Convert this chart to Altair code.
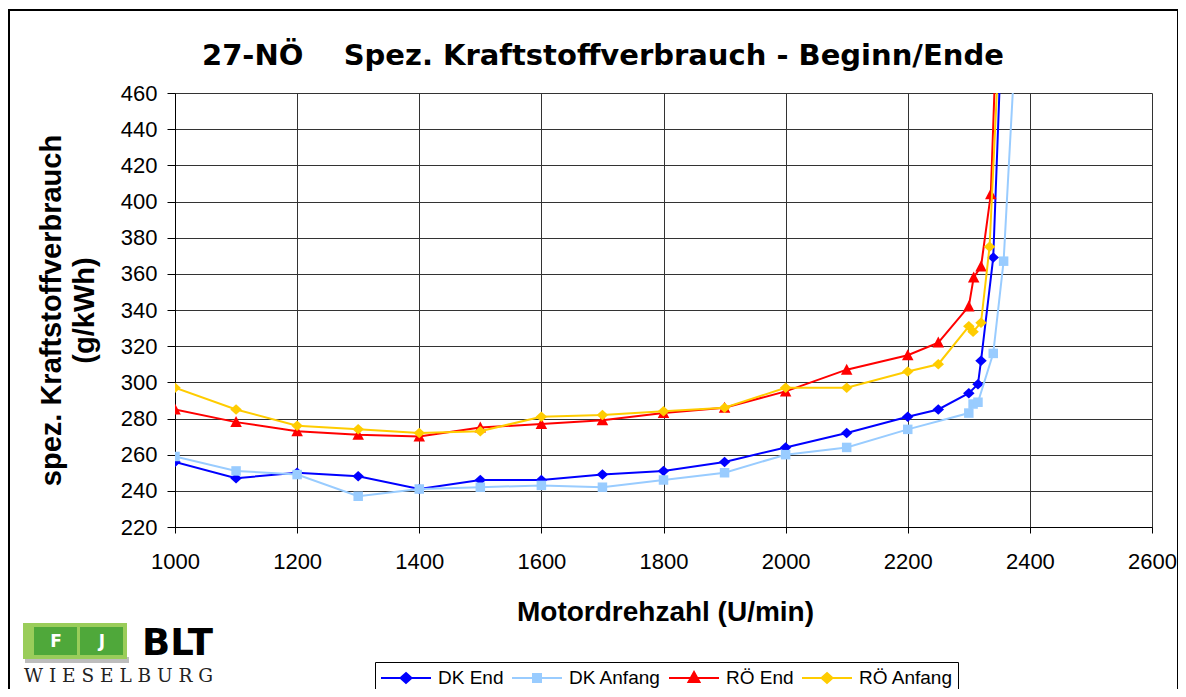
import altair as alt
import pandas as pd

SERIES = ["DK End", "DK Anfang", "RÖ End", "RÖ Anfang"]
COLORS = ["#0000FF", "#99CCFF", "#FF0000", "#FFCC00"]

DK_END_X = [1000, 1100, 1200, 1300, 1400, 1500, 1600, 1700, 1800, 1900, 2000, 2100, 2200, 2250, 2300, 2315, 2320, 2340, 2355]
DK_END_Y = [256, 247, 250, 248, 241, 246, 246, 249, 251, 256, 264, 272, 281, 285, 294, 299, 312, 369, 505]

DK_ANF_X = [1000, 1100, 1200, 1300, 1400, 1500, 1600, 1700, 1800, 1900, 2000, 2100, 2200, 2300, 2307, 2315, 2340, 2357, 2380]
DK_ANF_Y = [259, 251, 249, 237, 241, 242, 243, 242, 246, 250, 260, 264, 274, 283, 288, 289, 316, 367, 510]

RO_END_X = [1000, 1100, 1200, 1300, 1400, 1500, 1600, 1700, 1800, 1900, 2000, 2100, 2200, 2250, 2300, 2308, 2320, 2336, 2345]
RO_END_Y = [285, 278, 273, 271, 270, 275, 277, 279, 283, 286, 295, 307, 315, 322, 342, 358, 364, 404, 490]

RO_ANF_X = [1000, 1100, 1200, 1300, 1400, 1500, 1600, 1700, 1800, 1900, 2000, 2100, 2200, 2250, 2300, 2307, 2320, 2334, 2350]
RO_ANF_Y = [297, 285, 276, 274, 272, 273, 281, 282, 284, 286, 297, 297, 306, 310, 331, 328, 333, 375, 490]

X_TICKS = [1000, 1200, 1400, 1600, 1800, 2000, 2200, 2400, 2600]
Y_TICKS = [220, 240, 260, 280, 300, 320, 340, 360, 380, 400, 420, 440, 460]

TITLE = "27-NÖ\u00a0\u00a0\u00a0\u00a0Spez. Kraftstoffverbrauch - Beginn/Ende"
X_TITLE = "Motordrehzahl (U/min)"
Y_TITLE = ["spez. Kraftstoffverbrauch", "(g/kWh)"]

rows = []
for name, xs, ys in [
    (SERIES[0], DK_END_X, DK_END_Y),
    (SERIES[1], DK_ANF_X, DK_ANF_Y),
    (SERIES[2], RO_END_X, RO_END_Y),
    (SERIES[3], RO_ANF_X, RO_ANF_Y),
]:
    for xv, yv in zip(xs, ys):
        rows.append({"series": name, "rpm": xv, "bsfc": yv})
df = pd.DataFrame(rows)

# marker shapes (unit = 5px at size 100)
DIAMOND = "M0,-1.05L1.15,0L0,1.05L-1.15,0Z"
SQUARE = "M-0.95,-0.95L0.95,-0.95L0.95,0.95L-0.95,0.95Z"
TRIANGLE = "M0,-1.2L1.15,1L-1.15,1Z"
MARKERS = [DIAMOND, SQUARE, TRIANGLE, DIAMOND]

# legend symbols: line + marker (unit = 10px at size 400)
LEG_DIAMOND = "M-1,0L4,0M1.5,-0.5L2.05,0L1.5,0.5L0.95,0Z"
LEG_SQUARE = "M-1,0L4,0M1.1,-0.4L1.9,-0.4L1.9,0.4L1.1,0.4Z"
LEG_TRIANGLE = "M-1,0L4,0M1.5,-0.6L2.05,0.4L0.95,0.4Z"
LEG_PATHS = [LEG_DIAMOND, LEG_SQUARE, LEG_TRIANGLE, LEG_DIAMOND]

FONT = "Liberation Sans"

xs = alt.Scale(domain=[1000, 2600], nice=False, zero=False)
ys = alt.Scale(domain=[220, 460], nice=False, zero=False)

x_enc = alt.X(
    "rpm:Q", scale=xs,
    axis=alt.Axis(
        values=X_TICKS, format="d", title=X_TITLE, grid=True, labelFlush=False,
        tickSize=6, labelPadding=18, labelFontSize=22,
        titleFont=FONT, titleFontSize=28, titleFontWeight="bold",
        titleX=490, titleY=93, titleBaseline="alphabetic", titleAlign="center",
    ),
)
y_enc = alt.Y(
    "bsfc:Q", scale=ys,
    axis=alt.Axis(
        values=Y_TICKS, format="d", title=Y_TITLE, grid=True, labelFlush=False,
        tickSize=8, labelPadding=10, labelFontSize=22,
        titleFont=FONT, titleFontSize=29, titleFontWeight="bold",
        titleLineHeight=33, titleX=-115, titleY=217, titleAngle=270,
        titleBaseline="alphabetic", titleAlign="center",
    ),
)

base = alt.Chart(df)
layers = []
for s, c, m in zip(SERIES, COLORS, MARKERS):
    sub = base.transform_filter(alt.datum.series == s)
    layers.append(
        sub.mark_line(color=c, strokeWidth=2, clip=True).encode(
            x=x_enc, y=y_enc, order=alt.Order("rpm:Q")
        )
    )
    layers.append(
        sub.mark_point(shape=m, size=100, filled=True, color=c, opacity=1, clip=True).encode(
            x=x_enc, y=y_enc
        )
    )

leg = alt.Legend(
    orient="none", legendX=200, legendY=569, direction="horizontal", columns=4,
    gridAlign="none",
    strokeColor="black", fillColor="white", padding=5,
    labelFont=FONT, labelFontSize=19, labelColor="black", labelOffset=36,
    symbolSize=400, symbolStrokeWidth=2, symbolOpacity=1, columnPadding=4,
)
legend_layer = base.transform_filter("false").mark_point(filled=True, strokeWidth=2).encode(
    x=x_enc, y=y_enc,
    fill=alt.Fill("series:N", scale=alt.Scale(domain=SERIES, range=COLORS), legend=leg, title=None),
    stroke=alt.Stroke("series:N", scale=alt.Scale(domain=SERIES, range=COLORS), legend=leg, title=None),
    shape=alt.Shape("series:N", scale=alt.Scale(domain=SERIES, range=LEG_PATHS), legend=leg, title=None),
)
layers.append(legend_layer)

one = pd.DataFrame({"t": [""]})

title_mark = alt.Chart(pd.DataFrame({"t": [TITLE]})).mark_text(
    font="DejaVu Sans", fontSize=29, fontWeight="bold", align="left", baseline="alphabetic", color="black"
).encode(text="t:N", x=alt.value(27), y=alt.value(-28))

frame = alt.Chart(one).mark_rect(fillOpacity=0, stroke="black", strokeWidth=2).encode(
    x=alt.value(-166), x2=alt.value(1003), y=alt.value(-83), y2=alt.value(620)
)

# logo (decoration)
logo_shadow = alt.Chart(one).mark_rect(fill="#BDBDBD").encode(
    x=alt.value(-150), x2=alt.value(-46), y=alt.value(564), y2=alt.value(570))
logo_outer = alt.Chart(one).mark_rect(fill="#9ACD5A").encode(
    x=alt.value(-152), x2=alt.value(-48), y=alt.value(530), y2=alt.value(566))
logo_f = alt.Chart(one).mark_rect(fill="#4FA83A").encode(
    x=alt.value(-141), x2=alt.value(-98), y=alt.value(534), y2=alt.value(562))
logo_j = alt.Chart(one).mark_rect(fill="#4FA83A").encode(
    x=alt.value(-95), x2=alt.value(-52), y=alt.value(534), y2=alt.value(562))
logo_ft = alt.Chart(pd.DataFrame({"t": ["F"]})).mark_text(
    font="DejaVu Sans", fontSize=17, fontWeight="bold", color="white", align="center", baseline="alphabetic"
).encode(text="t:N", x=alt.value(-119), y=alt.value(554))
logo_jt = alt.Chart(pd.DataFrame({"t": ["J"]})).mark_text(
    font="DejaVu Sans", fontSize=17, fontWeight="bold", color="white", align="center", baseline="alphabetic"
).encode(text="t:N", x=alt.value(-73), y=alt.value(554))
logo_blt = alt.Chart(pd.DataFrame({"t": ["BLT"]})).mark_text(
    font="DejaVu Sans", fontSize=37, fontWeight="bold", color="black", align="left", baseline="alphabetic"
).encode(text="t:N", x=alt.value(-33), y=alt.value(562))
logo_w = alt.Chart(pd.DataFrame({"t": ["W I E S E L B U R G"]})).mark_text(
    font="DejaVu Serif", fontSize=18.5, color="#222222", align="left", baseline="alphabetic"
).encode(text="t:N", x=alt.value(-151), y=alt.value(589))

chart = alt.layer(
    frame, *layers, title_mark,
    logo_shadow, logo_outer, logo_f, logo_j, logo_ft, logo_jt, logo_blt, logo_w,
).properties(
    width=977, height=434,
    padding={"left": 167, "top": 85, "right": 26, "bottom": 162},
    autosize=alt.AutoSizeParams(type="none"),
    background="white",
).configure_view(stroke=None).configure_axis(
    labelFont=FONT, labelColor="black", titleColor="black",
    domainColor="black", tickColor="black", gridColor="#333333", gridWidth=1,
    domainWidth=1, tickWidth=1, zindex=1,
)

chart.save("out.html", embed_options={"renderer": "svg", "actions": False})
